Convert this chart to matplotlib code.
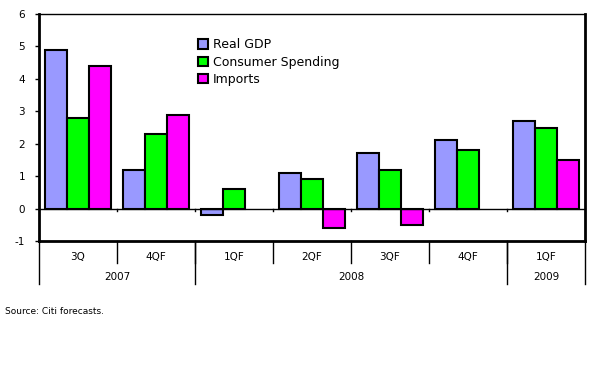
import numpy as np
import matplotlib.pyplot as plt
import matplotlib.transforms as mtransforms

plt.rcParams["axes.unicode_minus"] = False

quarters = ["3Q", "4QF", "1QF", "2QF", "3QF", "4QF", "1QF"]
years = ["2007", "2008", "2009"]
year_spans = [(0, 1), (2, 5), (6, 6)]
real_gdp = [4.9, 1.2, -0.2, 1.1, 1.7, 2.1, 2.7]
consumer = [2.8, 2.3, 0.6, 0.9, 1.2, 1.8, 2.5]
imports = [4.4, 2.9, np.nan, -0.6, -0.5, np.nan, 1.5]

W, H = 602, 384
fig = plt.figure(figsize=(W / 100, H / 100), dpi=100)
ax = fig.add_axes([39 / W, (H - 241) / H, 546 / W, 227 / H])

x = np.arange(len(quarters))
bw = 0.282
series = [(real_gdp, "#9999FF", "Real GDP"),
          (consumer, "#00FF00", "Consumer Spending"),
          (imports, "#FF00FF", "Imports")]
for i, (vals, col, lab) in enumerate(series):
    ax.bar(x + (i - 1) * bw, vals, bw, color=col, edgecolor="black",
           linewidth=1.5, label=lab, zorder=3)

ax.set_xlim(-0.5, len(quarters) - 0.5)
ax.set_ylim(-1, 6)
ax.set_yticks(range(-1, 7))
ax.tick_params(axis="y", labelsize=7.5, length=3, width=1, pad=7)
ax.set_xticks([])

for s in ["left", "bottom", "right"]:
    ax.spines[s].set_linewidth(2)
ax.spines["top"].set_linewidth(1)

# zero line with small ticks at group boundaries
ax.axhline(0, color="black", linewidth=1, zorder=4)
for b in x[:-1] + 0.5:
    ax.plot([b, b], [0, -0.08], color="black", linewidth=1, zorder=4)

# category labels under the axis
tr = mtransforms.blended_transform_factory(ax.transData, ax.transAxes)
for xi, q in zip(x, quarters):
    ax.text(xi, -0.07, q, transform=tr, ha="center", va="center", fontsize=7.5)
for b in x[:-1] + 0.5:
    ax.plot([b, b], [0, -0.097], transform=tr, color="black",
            linewidth=1, clip_on=False)
for (a, b), y in zip(year_spans, years):
    ax.text((a + b) / 2, -0.16, y, transform=tr, ha="center", va="center",
            fontsize=7.5)
for b in [-0.5, 1.5, 5.5, 6.5]:
    ax.plot([b, b], [0, -0.189], transform=tr, color="black",
            linewidth=1, clip_on=False)

leg = ax.legend(loc="upper left", bbox_to_anchor=(0.28, 0.92), frameon=False,
                fontsize=9, handlelength=0.75, handleheight=0.75,
                handletextpad=0.4, labelspacing=0.35, borderpad=0)

fig.text(5 / W, 1 - 312 / H, "Source: Citi forecasts.", fontsize=6.5,
         family=["Liberation Sans Narrow", "DejaVu Sans"], va="center")

fig.savefig("out.png", dpi=100)
